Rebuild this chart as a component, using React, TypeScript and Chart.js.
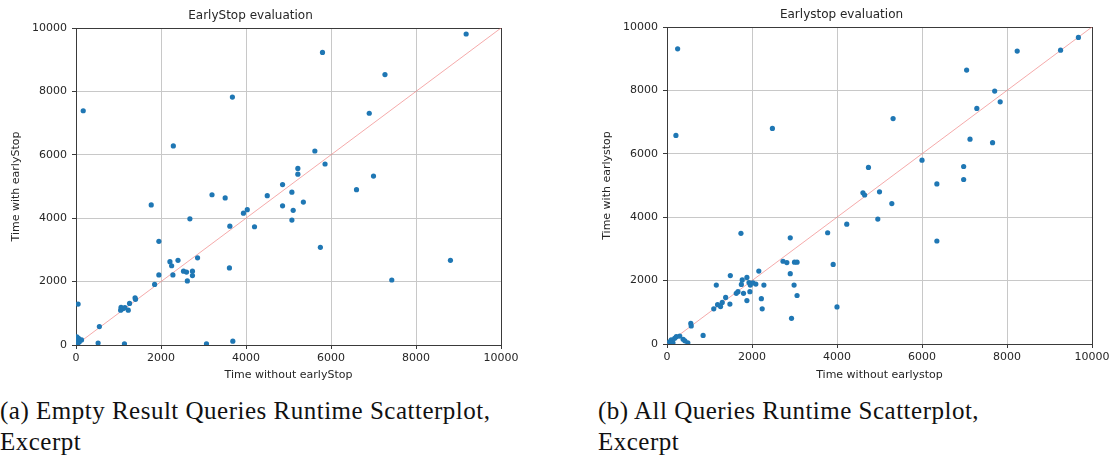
import React, { useEffect, useRef } from "react";
import { Chart, registerables } from "chart.js";

Chart.register(...registerables);

// ---- data ----
const AXIS_TICKS = [0, 2000, 4000, 6000, 8000, 10000];

const aX = [170, 2290, 3680, 3200, 3510, 4500, 4860, 5080, 5220, 5220, 9180, 5800, 7270, 6900, 5620, 5860, 7000, 6600, 1770, 2680, 1950, 4860, 3940, 4030, 3620, 4200, 5080, 5110, 5350, 2210, 2250, 2400, 2860, 2280, 1950, 2530, 2600, 2740, 2740, 2620, 3610, 1850, 1390, 1400, 1260, 1230, 1060, 1050, 1110, 1150, 50, 550, 520, 1140, 3070, 3690, 5750, 7430, 8810, 20, 60, 130, 30, 80, 40];
const aY = [7390, 6280, 7820, 4740, 4640, 4710, 5060, 4820, 5570, 5390, 9810, 9230, 8530, 7310, 6120, 5710, 5330, 4900, 4420, 3980, 3270, 4390, 4160, 4270, 3750, 3730, 3940, 4250, 4510, 2630, 2500, 2670, 2750, 2210, 2210, 2330, 2300, 2330, 2190, 2020, 2430, 1910, 1490, 1440, 1310, 1100, 1190, 1100, 1150, 1180, 1290, 580, 60, 40, 40, 120, 3080, 2050, 2670, 260, 210, 160, 150, 100, 40];

const bX = [250, 210, 2480, 9680, 9260, 8240, 7050, 7710, 7840, 7290, 5320, 7130, 7660, 6000, 4740, 6980, 6980, 6350, 5000, 4610, 4650, 5290, 4960, 4230, 6350, 1740, 2900, 3780, 3910, 4000, 2730, 2820, 3000, 3060, 2900, 2990, 3060, 2930, 2160, 2280, 2220, 2240, 1880, 1770, 1930, 1960, 1750, 1800, 1880, 1950, 2020, 2090, 1630, 1670, 1490, 1160, 1480, 1380, 1300, 1190, 1260, 1100, 560, 570, 850, 60, 100, 180, 220, 300, 380, 490, 140, 420];
const bY = [9310, 6580, 6800, 9670, 9270, 9240, 8640, 7980, 7640, 7430, 7110, 6460, 6350, 5800, 5570, 5600, 5190, 5050, 4800, 4770, 4700, 4430, 3940, 3780, 3250, 3490, 3350, 3510, 2510, 1170, 2610, 2570, 2580, 2580, 2220, 1860, 1530, 810, 2300, 1860, 1430, 1110, 2100, 2020, 1940, 1860, 1880, 1600, 1370, 1650, 1930, 1890, 1600, 1650, 2160, 1860, 1260, 1470, 1310, 1240, 1180, 1110, 650, 570, 270, 70, 130, 180, 230, 250, 150, 40, 40, 100];

const DIAGONAL = [0, 10000];

const FONT = "'DejaVu Sans', sans-serif";
const TEXT = "#262626";

type PlotProps = {
  xs: number[];
  ys: number[];
  title: string;
  xLabel: string;
  yLabel: string;
  left: number;
  width: number;
  rightPad: number;
  titlePadTop: number;
  titlePadBottom: number;
  xAxisHeight: number;
};

function ScatterPlot(p: PlotProps) {
  const ref = useRef<HTMLCanvasElement | null>(null);
  useEffect(() => {
    if (!ref.current) return;
    const pts = p.xs.map((x, i) => ({ x, y: p.ys[i] }));
    const diag = DIAGONAL.map((v) => ({ x: v, y: v }));
    const gridColor = (ctx: any) =>
      ctx.tick && ctx.tick.value === 10000 ? "#3a3a3a" : "#c8c8c8";
    const chart = new Chart(ref.current, {
      type: "scatter",
      data: {
        datasets: [
          {
            data: pts,
            backgroundColor: "#1f77b4",
            borderWidth: 0,
            pointRadius: 2.6,
          },
          {
            data: diag,
            showLine: true,
            borderColor: "rgba(240,125,125,0.65)",
            borderWidth: 1,
            pointRadius: 0,
          },
        ],
      },
      options: {
        animation: false,
        responsive: false,
        maintainAspectRatio: false,
        layout: { padding: { left: 0, right: p.rightPad, top: 0, bottom: 0 } },
        plugins: {
          legend: { display: false },
          tooltip: { enabled: false },
          title: {
            display: true,
            text: p.title,
            color: TEXT,
            font: { family: FONT, size: 12, weight: "normal" },
            padding: { top: p.titlePadTop, bottom: p.titlePadBottom },
          },
        },
        scales: {
          x: {
            type: "linear",
            min: 0,
            max: 10000,
            afterBuildTicks: (s: any) => {
              s.ticks = AXIS_TICKS.map((v) => ({ value: v }));
            },
            afterFit: (s: any) => {
              s.height = p.xAxisHeight;
            },
            ticks: {
              color: TEXT,
              font: { family: FONT, size: 11 },
              padding: 3,
              maxRotation: 0,
              callback: (v: any) => String(v),
            },
            grid: { color: gridColor, tickColor: "#3a3a3a", tickLength: 4, lineWidth: 1 },
            border: { color: "#3a3a3a", width: 1 },
            title: {
              display: true,
              text: p.xLabel,
              color: TEXT,
              font: { family: FONT, size: 11 },
              padding: { top: 0, bottom: 3.5 },
            },
          },
          y: {
            type: "linear",
            min: 0,
            max: 10000,
            afterBuildTicks: (s: any) => {
              s.ticks = AXIS_TICKS.map((v) => ({ value: v }));
            },
            afterFit: (s: any) => {
              s.width = 76;
            },
            ticks: {
              color: TEXT,
              font: { family: FONT, size: 11 },
              padding: 5,
              callback: (v: any) => String(v),
            },
            grid: { color: gridColor, tickColor: "#3a3a3a", tickLength: 4, lineWidth: 1 },
            border: { color: "#3a3a3a", width: 1 },
            title: {
              display: true,
              text: p.yLabel,
              color: TEXT,
              font: { family: FONT, size: 11 },
              padding: { top: 9.5, bottom: 0 },
            },
          },
        },
      } as any,
    });
    return () => chart.destroy();
  }, []);
  return (
    <canvas
      ref={ref}
      width={p.width}
      height={385}
      style={{ position: "absolute", left: p.left, top: 0, width: p.width, height: 385 }}
    />
  );
}

const captionStyle: React.CSSProperties = {
  position: "absolute",
  top: 395,
  fontFamily: "'Liberation Serif', 'Times New Roman', serif",
  fontSize: 25,
  letterSpacing: "0.5px",
  lineHeight: "31px",
  color: "#111",
  whiteSpace: "nowrap",
};

export default function App() {
  return (
    <div style={{ position: "absolute", left: 0, top: 0, width: 1116, height: 463, background: "#fff", overflow: "hidden" }}>
      <ScatterPlot
        xs={aX}
        ys={aY}
        title="EarlyStop evaluation"
        xLabel="Time without earlyStop"
        yLabel="Time with earlyStop"
        left={0}
        width={560}
        rightPad={59}
        titlePadTop={8.5}
        titlePadBottom={5.1}
        xAxisHeight={40}
      />
      <ScatterPlot
        xs={bX}
        ys={bY}
        title="Earlystop evaluation"
        xLabel="Time without earlystop"
        yLabel="Time with earlystop"
        left={591}
        width={525}
        rightPad={24}
        titlePadTop={8}
        titlePadBottom={4.6}
        xAxisHeight={41}
      />
      <div style={{ ...captionStyle, left: 0 }}>
        (a) Empty Result Queries Runtime Scatterplot,
        <br />
        Excerpt
      </div>
      <div style={{ ...captionStyle, left: 598 }}>
        (b) All Queries Runtime Scatterplot,
        <br />
        Excerpt
      </div>
    </div>
  );
}
